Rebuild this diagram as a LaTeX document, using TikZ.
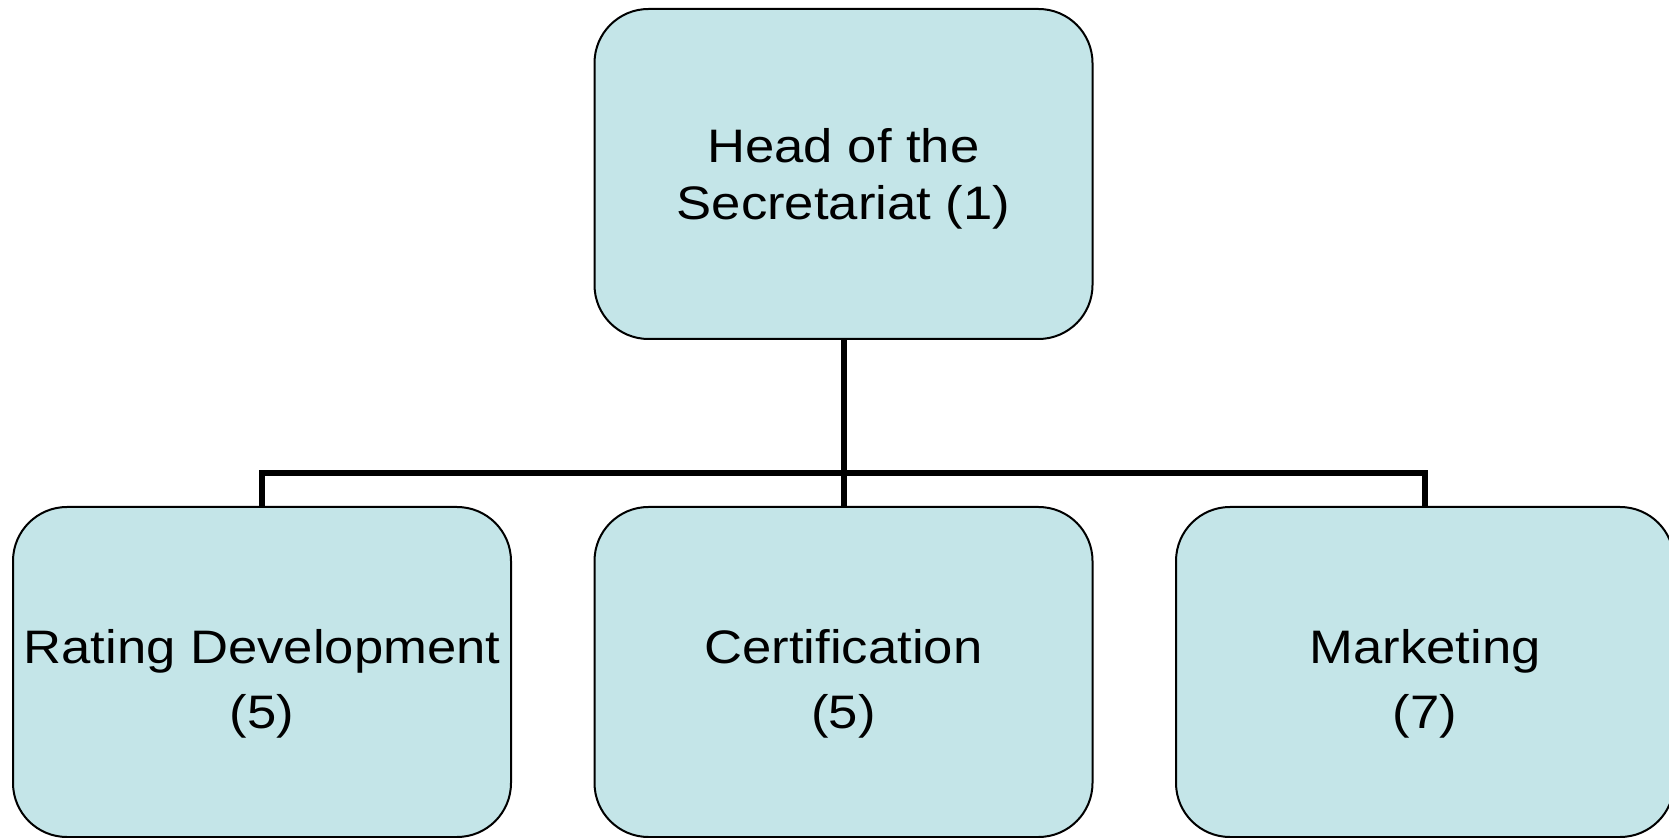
\documentclass[tikz,border=0pt]{standalone}
\usepackage{fontspec}
\setmainfont{Liberation Sans}[FakeStretch=1.12]
\definecolor{boxfill}{RGB}{196,229,232}
\begin{document}
\begin{tikzpicture}[x=0.5pt,y=-0.5pt,
  orgbox/.style={draw=black, line width=1pt, fill=boxfill, rounded corners=27pt,
    minimum width=249pt, minimum height=165pt, inner sep=0pt},
  lbl/.style={align=center, inner sep=0pt, anchor=base},
  topfont/.style={font=\fontsize{23.5}{28.5}\selectfont},
  botfont/.style={font=\fontsize{23.5}{32.5}\selectfont},
  conn/.style={draw=black, line width=3pt}]
\useasboundingbox (0,0) rectangle (1669,838);
\clip (0,0) rectangle (1669,838);
\node[orgbox] (head) at (843.5,174) {};
\node[orgbox] (rating) at (262,672) {};
\node[orgbox] (cert) at (843.5,672) {};
\node[orgbox] (mkt) at (1425,672) {};
\coordinate (j) at (843.5,473);
\draw[conn] (head.south) -- (j);
\draw[conn] (rating.north) -- (rating.north |- j) -- (mkt.north |- j) -- (mkt.north);
\draw[conn] (j) -- (cert.north);
\node[lbl, topfont] (headt) at (843.5,220) {Head of the\\Secretariat (1)};
\node[lbl, botfont] (ratingt) at (262,728) {Rating Development\\(5)};
\node[lbl, botfont] (certt) at (843.5,728) {Certification\\(5)};
\node[lbl, botfont] (mktt) at (1425,728) {Marketing\\(7)};
\end{tikzpicture}
\end{document}
